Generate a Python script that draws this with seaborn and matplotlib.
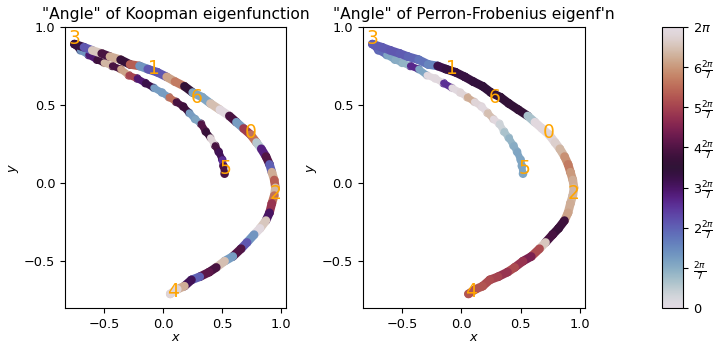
import numpy as np
import matplotlib
matplotlib.use("Agg")
import matplotlib.pyplot as plt
from matplotlib.collections import LineCollection
import seaborn as sns

# sample points along the attractor
# outer strand: 3 -> 1 -> 6 -> 0 -> 2 -> 4
outer_x = [-0.75, -0.67, -0.60, -0.52, -0.45, -0.36, -0.28, -0.20, -0.13, -0.05,
           0.03, 0.10, 0.18, 0.25, 0.33, 0.40, 0.48, 0.56, 0.62, 0.68,
           0.74, 0.79, 0.83, 0.87, 0.90, 0.92, 0.94, 0.95, 0.94, 0.92,
           0.90, 0.87, 0.82, 0.77, 0.71, 0.66, 0.59, 0.52, 0.45, 0.39,
           0.31, 0.24, 0.18, 0.12, 0.06]
outer_y = [0.89, 0.87, 0.85, 0.83, 0.81, 0.79, 0.76, 0.75, 0.73, 0.71,
           0.68, 0.65, 0.62, 0.58, 0.55, 0.51, 0.47, 0.43, 0.39, 0.35,
           0.31, 0.26, 0.22, 0.17, 0.12, 0.07, 0.02, -0.03, -0.08, -0.13,
           -0.19, -0.24, -0.29, -0.33, -0.38, -0.42, -0.47, -0.50, -0.54, -0.57,
           -0.60, -0.62, -0.66, -0.68, -0.71]
# inner strand: 3 -> 5
inner_x = [-0.75, -0.70, -0.63, -0.56, -0.50, -0.43, -0.36, -0.29, -0.22, -0.15, -0.08,
           -0.01, 0.05, 0.11, 0.17, 0.22, 0.27, 0.32, 0.36, 0.40, 0.44,
           0.47, 0.50, 0.51, 0.52]
inner_y = [0.89, 0.85, 0.82, 0.79, 0.77, 0.75, 0.73, 0.69, 0.67, 0.64, 0.61,
           0.58, 0.55, 0.52, 0.49, 0.45, 0.41, 0.38, 0.33, 0.29, 0.24,
           0.20, 0.15, 0.11, 0.06]

# angle (radians) of each eigenfunction at those points
koop_outer = [3.0, 1.9, 5.9, 3.5, 5.6, 3.3, 4.8, 1.2, 1.9, 1.9,
              5.5, 5.1, 3.2, 1.0, 1.0, 5.8, 6.2, 3.5, 1.1, 4.4,
              5.0, 0.5, 2.5, 3.6, 1.8, 5.6, 4.8, 5.7, 5.0, 4.3,
              2.7, 5.9, 6.2, 1.2, 1.9, 3.6, 1.1, 5.8, 3.5, 3.7,
              1.8, 2.8, 5.6, 6.1, 5.9]
koop_inner = [3.0, 1.2, 2.6, 3.4, 5.7, 3.5, 5.5, 4.5, 2.6, 2.9, 1.1,
              1.1, 5.0, 3.5, 3.4, 1.1, 1.0, 3.6, 3.3, 6.1, 3.5,
              2.8, 2.3, 3.5, 3.6]
pf_outer = [1.85, 1.85, 1.9, 1.85, 1.75, 1.6, 1.4, 2.9, 3.0, 3.0,
            3.0, 3.05, 3.1, 3.1, 3.2, 3.2, 3.25, 0.6, 6.2, 6.2,
            6.1, 6.0, 5.7, 5.3, 5.1, 5.4, 5.6, 5.7, 5.7, 5.6,
            5.5, 3.4, 3.35, 3.5, 5.9, 4.6, 4.0, 4.3, 4.6, 4.3,
            4.5, 4.6, 4.7, 4.7, 4.8]
pf_inner = [1.85, 1.7, 1.0, 0.9, 0.8, 2.4, 1.0, 6.2, 6.2, 2.3, 6.2,
            6.1, 5.6, 6.1, 6.2, 5.8, 6.2, 0.3, 0.6, 0.8, 0.9,
            1.0, 1.0, 1.0, 1.0]

# periodic orbit labels
orbit_labels = ["0", "1", "2", "3", "4", "5", "6"]
orbit_x = [0.69, -0.13, 0.90, -0.80, 0.03, 0.48, 0.23]
orbit_y = [0.29, 0.70, -0.10, 0.89, -0.73, 0.06, 0.51]

titles = ['"Angle" of Koopman eigenfunction', '"Angle" of Perron-Frobenius eigenf\'n']

plt.rcParams["font.size"] = 9.3

fig = plt.figure(figsize=(7.13, 3.44), dpi=100)
ax1 = fig.add_axes([0.0912, 0.1047, 0.310, 0.817])
ax2 = fig.add_axes([0.509, 0.1047, 0.311, 0.817])
cax = fig.add_axes([0.9285, 0.1047, 0.0295, 0.817])

norm = plt.Normalize(0, 2 * np.pi)


def draw_strand(ax, sx, sy, ang, lw):
    pts = np.column_stack([sx, sy])
    segs = np.stack([pts[:-1], pts[1:]], axis=1)
    lc = LineCollection(segs, cmap="twilight", norm=norm, linewidths=lw,
                        capstyle="round")
    lc.set_array(np.asarray(ang[:-1]))
    ax.add_collection(lc)
    sns.scatterplot(x=sx, y=sy, hue=ang, palette="twilight", hue_norm=norm,
                    s=38, linewidth=0, legend=False, ax=ax)


panels = [(ax1, koop_outer, koop_inner), (ax2, pf_outer, pf_inner)]
for (ax, ang_o, ang_i), title in zip(panels, titles):
    draw_strand(ax, inner_x, inner_y, ang_i, 5.0)
    draw_strand(ax, outer_x, outer_y, ang_o, 6.2)
    for lab, ox, oy in zip(orbit_labels, orbit_x, orbit_y):
        ax.text(ox, oy, lab, color="orange", fontsize=13.5)
    ax.set_xlim(-0.83, 1.04)
    ax.set_ylim(-0.8, 1.0)
    ax.set_xticks([-0.5, 0.0, 0.5, 1.0])
    ax.set_yticks([-0.5, 0.0, 0.5, 1.0])
    ax.set_xlabel("$x$", labelpad=0)
    ax.set_ylabel("$y$", labelpad=2)
    ax.set_title(title, fontsize=11.2)

sm = plt.cm.ScalarMappable(cmap="twilight", norm=norm)
cb = fig.colorbar(sm, cax=cax)
ticks = [k * 2 * np.pi / 7 for k in range(8)]
cb.set_ticks(ticks)
cb.set_ticklabels(["0", r"$\frac{2\pi}{7}$"] +
                  [r"$%d\frac{2\pi}{7}$" % k for k in range(2, 7)] + [r"$2\pi$"])

fig.savefig("out.png", dpi=100)
